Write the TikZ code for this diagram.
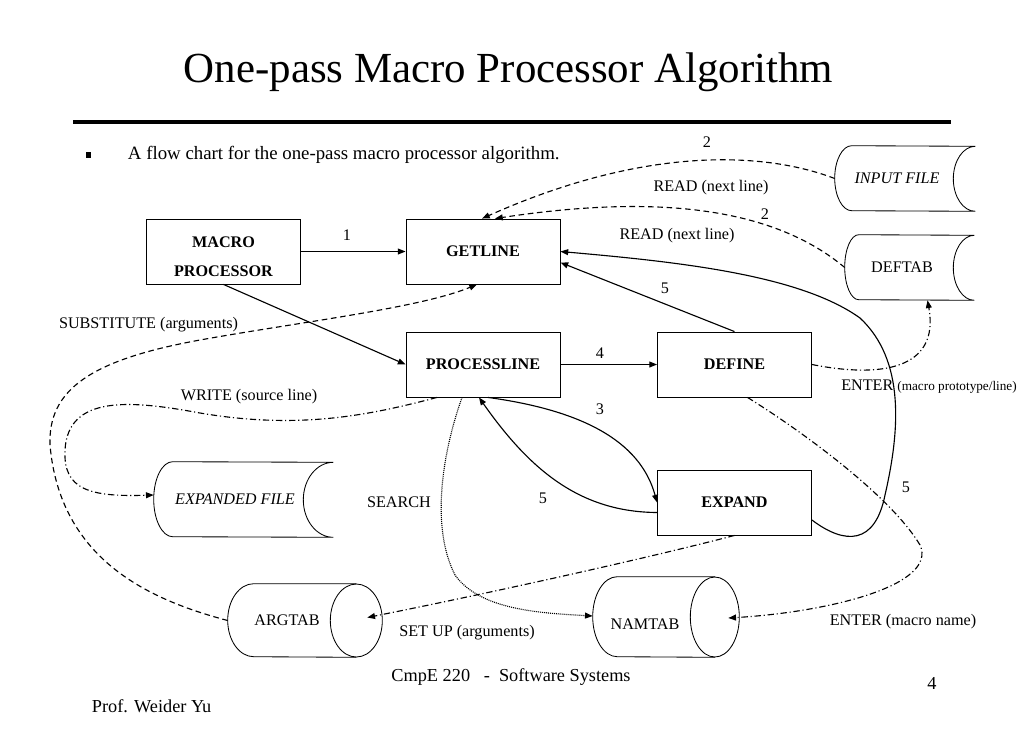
\documentclass[tikz,border=0pt]{standalone}
\usepackage{fontspec}
\setmainfont{Liberation Serif}
\usetikzlibrary{arrows.meta}

\begin{document}
\begin{tikzpicture}[x=0.025cm,y=0.025cm,
  box/.style={draw,line width=0.6pt,inner sep=0pt,align=center,minimum width=3.85cm,minimum height=1.625cm,font=\fontsize{11.5}{13}\selectfont\bfseries},
  store/.style={inner sep=0pt,font=\fontsize{11.5}{13}\selectfont},
  shp/.style={line width=0.6pt},
  lbl/.style={inner sep=0pt,font=\fontsize{11.5}{13}\selectfont},
  arr/.style={line width=0.8pt,-{Triangle[length=5.5pt,width=4.2pt]}},
  dsh/.style={dash pattern=on 4pt off 2.6pt},
  ddot/.style={dash pattern=on 4.5pt off 2pt on 0.8pt off 2pt},
  dots/.style={line width=0.8pt,dash pattern=on 0.7pt off 0.7pt}]
\useasboundingbox (0,0) rectangle (1023,-731);

% title and bullet line
\node[anchor=base] (title) at (508.5,-82) {\fontsize{30.5}{36}\selectfont One-pass Macro Processor Algorithm};
\draw [line width=2.2pt] (73,-122) -- (951,-122);
\node[fill,inner sep=0pt,minimum width=0.14cm,minimum height=0.15cm] (bullet) at (88.5,-154.5) {};
\node[anchor=base west] (intro) at (123,-159) {\fontsize{13.4}{16}\selectfont A flow chart for the one-pass macro processor algorithm.};

% process boxes
\node[box] (mp) at (223.5,-251.5) {\raisebox{-0.12cm}[\height][\depth]{MACRO}\\[7.6pt]\raisebox{-0.12cm}[\height][\depth]{PROCESSOR}};
\node[box] (gl) at (483,-251.5) {GETLINE};
\node[box] (pl) at (483,-364.5) {PROCESSLINE};
\node[box] (df) at (734.5,-364.5) {DEFINE};
\node[box] (ex) at (734.5,-502.5) {EXPAND};

% files and tables
\node[store,minimum width=3.5cm,minimum height=1.625cm] (inp) at (905,-178.5) {\itshape INPUT FILE\hspace*{0.4cm}};
\node[store,minimum width=3.225cm,minimum height=1.625cm] (dtab) at (909.5,-267.5) {DEFTAB\hspace*{0.375cm}};
\node[store,minimum width=4.475cm,minimum height=1.875cm] (exf) at (243.5,-499.5) {\itshape EXPANDED FILE\hspace*{0.425cm}};
\node[store,minimum width=3.85cm,minimum height=1.825cm] (atab) at (305,-620.5) {ARGTAB\hspace*{0.9cm}};
\node[store,minimum width=3.65cm,minimum height=2cm] (ntab) at (666,-617) {\raisebox{-0.17cm}[\height][\depth]{NAMTAB}\hspace*{1.05cm}};
\draw [shp] ([shift={(17,0)}]inp.north west) arc[start angle=90,end angle=270,x radius=17,y radius=32.5] -- (inp.south east) arc[start angle=270,end angle=90,x radius=22,y radius=32.5] -- cycle;
\draw [shp] ([shift={(14,0)}]dtab.north west) arc[start angle=90,end angle=270,x radius=14,y radius=32.5] -- (dtab.south east) arc[start angle=270,end angle=90,x radius=21,y radius=32.5] -- cycle;
\draw [shp] ([shift={(19,0)}]exf.north west) arc[start angle=90,end angle=270,x radius=19,y radius=37.5] -- (exf.south east) arc[start angle=270,end angle=90,x radius=30,y radius=37.5] -- cycle;
\draw [shp] ([shift={(-26,0)}]atab.north east) -- ([shift={(26,0)}]atab.north west) arc[start angle=90,end angle=270,x radius=26,y radius=36.5] -- ([shift={(-26,0)}]atab.south east);
\draw [shp] ([shift={(-26,0)}]atab.east) ellipse [x radius=26,y radius=36.5];
\draw [shp] ([shift={(-24.5,0)}]ntab.north east) -- ([shift={(24.5,0)}]ntab.north west) arc[start angle=90,end angle=270,x radius=24.5,y radius=40] -- ([shift={(-24.5,0)}]ntab.south east);
\draw [shp] ([shift={(-24.5,0)}]ntab.east) ellipse [x radius=24.5,y radius=40];

% solid flow
\draw [arr] (mp.east) -- (gl.west);
\draw [arr] (mp.south) -- (pl.west);
\draw [arr] (pl.east) -- (df.west);
\draw [arr] (df.north) -- ([shift={(0,-11)}]gl.east);
\draw [arr] ([shift={(5,0)}]pl.south) .. controls (580,-410) and (640,-440) .. (ex.west);
\draw [arr] ([shift={(0,-10)}]ex.west) .. controls (580,-512) and (530,-470) .. ([shift={(-4,0)}]pl.south);
\draw [arr] ([shift={(0,-17.5)}]ex.east) .. controls (845,-545) and (875,-545) .. (885,-495) .. controls (900,-430) and (905,-360) .. (860,-318) .. controls (800,-275) and (680,-262) .. (gl.east);

% reads and substitute
\draw [arr,dsh] (inp.west) .. controls (760,-150) and (640,-148) .. ([shift={(-1,0)}]gl.north);
\draw [arr,dsh] (dtab.west) .. controls (770,-205) and (650,-195) .. ([shift={(12,0)}]gl.north);
\draw [arr,dsh] (atab.west) .. controls (150,-600) and (60,-560) .. (50,-445) .. controls (48,-390) and (90,-360) .. (200,-340) .. controls (300,-322) and (420,-308) .. ([shift={(-6,0)}]gl.south);

% writes and enters
\draw [arr,ddot] ([shift={(-46,0)}]pl.south) .. controls (370,-415) and (300,-430) .. (200,-413) .. controls (130,-400) and (68,-395) .. (65,-450) .. controls (63,-490) and (90,-497) .. ([shift={(0,4.5)}]exf.west);
\draw [arr,ddot] (df.east) .. controls (880,-378) and (940,-370) .. ([shift={(18,0)}]dtab.south);
\draw [arr,ddot] ([shift={(13,0)}]df.south) .. controls (800,-430) and (890,-495) .. (920,-545) .. controls (938,-585) and (830,-612) .. ([shift={(-11,-1)}]ntab.east);
\draw [arr,ddot] (ex.south) .. controls (640,-560) and (480,-595) .. ([shift={(-15,3)}]atab.east);
\draw [arr,dots] ([shift={(-21,0)}]pl.south) .. controls (440,-460) and (432,-530) .. (455,-575) .. controls (480,-610) and (540,-613) .. ([shift={(0,1)}]ntab.west);

% labels
\node[lbl] (one) at (347,-235) {1};
\node[lbl] (two-a) at (707,-142) {2};
\node[lbl] (read-a) at (711,-188) {READ (next line)};
\node[lbl] (two-b) at (765,-214) {2};
\node[lbl] (read-b) at (677,-236) {READ (next line)};
\node[lbl] (five-a) at (665,-288) {5};
\node[lbl] (four) at (600,-353) {4};
\node[lbl] (three) at (600,-409) {3};
\node[lbl] (five-b) at (543,-498) {5};
\node[lbl] (five-c) at (906,-487) {5};
\node[lbl] (subst) at (148.5,-325) {SUBSTITUTE (arguments)};
\node[lbl] (write) at (249,-397) {WRITE (source line)};
\node[lbl] (search) at (399,-502) {SEARCH};
\node[lbl] (setup) at (467,-633) {SET UP (arguments)};
\node[lbl] (ent-name) at (903,-622) {ENTER (macro name)};
\node[lbl,anchor=west] (ent-proto) at (841,-387) {ENTER {\fontsize{9.4}{11}\selectfont(macro prototype/line)}};

% footer
\node[anchor=base] (course) at (511,-681) {\fontsize{13}{15}\selectfont CmpE 220\ \ \ -\ \ Software Systems};
\node[anchor=base] (page) at (932,-689) {\fontsize{13}{15}\selectfont 4};
\node[anchor=base west] (prof) at (87,-712) {\fontsize{13}{15}\selectfont Prof. Weider Yu};
\end{tikzpicture}
\end{document}
